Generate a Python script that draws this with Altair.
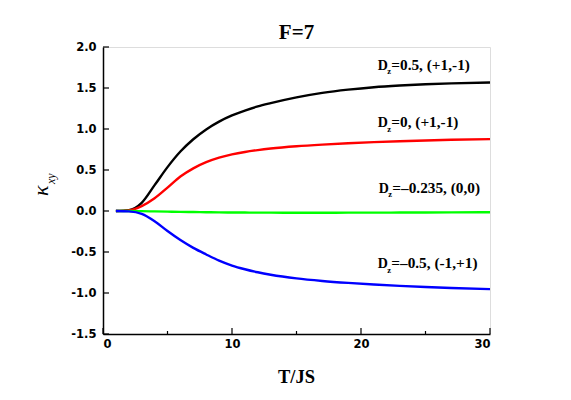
import altair as alt
import pandas as pd

# ---- data ----
T = [1, 2, 3, 4, 5, 6, 7, 8, 9, 10, 11, 12, 13, 15, 17, 19, 21, 23, 25, 27, 30]
k_black = [0, 0.01, 0.10, 0.315, 0.535, 0.725, 0.875, 0.995, 1.09, 1.165, 1.225, 1.275,
           1.315, 1.385, 1.44, 1.48, 1.51, 1.53, 1.545, 1.556, 1.567]
k_red = [0, 0.008, 0.06, 0.155, 0.285, 0.42, 0.52, 0.595, 0.65, 0.69, 0.72, 0.743,
         0.762, 0.79, 0.81, 0.826, 0.84, 0.851, 0.86, 0.868, 0.877]
k_green = [0, 0, -0.002, -0.005, -0.008, -0.011, -0.013, -0.015, -0.017, -0.018,
           -0.019, -0.02, -0.02, -0.021, -0.021, -0.02, -0.02, -0.019, -0.018, -0.017, -0.015]
k_blue = [0, -0.005, -0.035, -0.125, -0.245, -0.355, -0.45, -0.53, -0.605, -0.665, -0.71,
          -0.747, -0.777, -0.822, -0.853, -0.877, -0.897, -0.913, -0.927, -0.939, -0.953]

series_names = ["black", "red", "green", "blue"]
series_colors = ["#000000", "#ff0000", "#00ff00", "#0000ff"]
series_values = [k_black, k_red, k_green, k_blue]

label_main = ["=0.5, (+1,-1)", "=0, (+1,-1)", "=\u20130.235, (0,0)", "=\u20130.5, (-1,+1)"]
label_x = [21.3, 21.3, 21.38, 21.3]
label_y = [1.72, 1.02, 0.22, -0.70]

x_major = [0, 10, 20, 30]
x_minor = [5, 15, 25]
y_major = [-1.5, -1.0, -0.5, 0.0, 0.5, 1.0, 1.5, 2.0]

W, H = 387, 287

rows = []
for name, vals in zip(series_names, series_values):
    for t, v in zip(T, vals):
        rows.append({"T": t, "k": v, "s": name})
df = pd.DataFrame(rows)

xs = alt.Scale(domain=[0, 30], nice=False)
ys = alt.Scale(domain=[-1.5, 2.0], nice=False)

x_axis = alt.Axis(values=x_major, format="d", ticks=False, labelPadding=4,
                  labelFont="DejaVu Sans", labelFontWeight="bold", labelFontSize=11.5,
                  labelColor="black", domainColor="black", domainWidth=1.5, grid=False, title=None)
y_axis = alt.Axis(values=y_major, format=".1f", ticks=False, labelPadding=7,
                  labelExpr="replace(datum.label, '\u2212', '-')",
                  labelFont="DejaVu Sans", labelFontWeight="bold", labelFontSize=11.5,
                  labelColor="black", domainColor="black", domainWidth=1.5, grid=False, title=None)

lines = alt.Chart(df).mark_line(strokeWidth=2.4, interpolate="monotone").encode(
    x=alt.X("T:Q", scale=xs, axis=x_axis),
    y=alt.Y("k:Q", scale=ys, axis=y_axis),
    color=alt.Color("s:N", scale=alt.Scale(domain=series_names, range=series_colors), legend=None),
)

# inward ticks
xmaj = alt.Chart(pd.DataFrame({"t": x_major})).mark_rule(color="black", strokeWidth=1.2).encode(
    x=alt.X("t:Q", scale=xs), y=alt.value(H), y2=alt.value(H - 6))
xmin = alt.Chart(pd.DataFrame({"t": x_minor})).mark_rule(color="black", strokeWidth=1.2).encode(
    x=alt.X("t:Q", scale=xs), y=alt.value(H), y2=alt.value(H - 3))
ymaj = alt.Chart(pd.DataFrame({"v": y_major})).mark_rule(color="black", strokeWidth=1.2).encode(
    y=alt.Y("v:Q", scale=ys), x=alt.value(0), x2=alt.value(6))

lab = pd.DataFrame({"x": label_x, "y": label_y, "t": label_main})
lab_font = dict(font="Liberation Serif", fontWeight="bold", color="black", align="left",
                baseline="alphabetic")
labD = alt.Chart(lab).mark_text(fontSize=14, text="D", **lab_font).encode(
    x=alt.X("x:Q", scale=xs), y=alt.Y("y:Q", scale=ys))
labz = alt.Chart(lab).mark_text(fontSize=8.5, text="z", dx=9.5, dy=4.5, **lab_font).encode(
    x=alt.X("x:Q", scale=xs), y=alt.Y("y:Q", scale=ys))
labR = alt.Chart(lab).mark_text(fontSize=15.3, dx=13.5, **lab_font).encode(
    x=alt.X("x:Q", scale=xs), y=alt.Y("y:Q", scale=ys), text="t:N")

title = alt.Chart(pd.DataFrame({"t": ["F=7"]})).mark_text(
    font="Liberation Serif", fontWeight="bold", fontSize=21, color="black",
    align="center", baseline="alphabetic").encode(
    x=alt.value(W / 2), y=alt.value(-8.5), text="t:N")
xtitle = alt.Chart(pd.DataFrame({"t": ["T/JS"]})).mark_text(
    font="Liberation Serif", fontWeight="bold", fontSize=18.5, color="black",
    align="center", baseline="alphabetic").encode(
    x=alt.value(W / 2), y=alt.value(336), text="t:N")
ytitle_k = alt.Chart(pd.DataFrame({"t": ["\u03ba"]})).mark_text(
    font="Liberation Serif", fontStyle="italic", fontSize=22, color="black",
    align="left", baseline="alphabetic", angle=270).encode(
    x=alt.value(-55), y=alt.value(149), text="t:N")
ytitle_s = alt.Chart(pd.DataFrame({"t": ["xy"]})).mark_text(
    font="Liberation Serif", fontStyle="italic", fontSize=12, color="black",
    align="left", baseline="alphabetic", angle=270).encode(
    x=alt.value(-48), y=alt.value(137), text="t:N")

chart = alt.layer(lines, xmaj, xmin, ymaj, labD, labz, labR, title, xtitle, ytitle_k, ytitle_s).properties(
    width=W, height=H,
    autosize=alt.AutoSizeParams(type="none"),
    padding={"left": 95, "top": 39, "right": 60, "bottom": 60},
).configure_view(stroke="black", strokeWidth=1.5).configure(background="white")

chart.save("out.html", embed_options={"renderer": "svg", "actions": False})
